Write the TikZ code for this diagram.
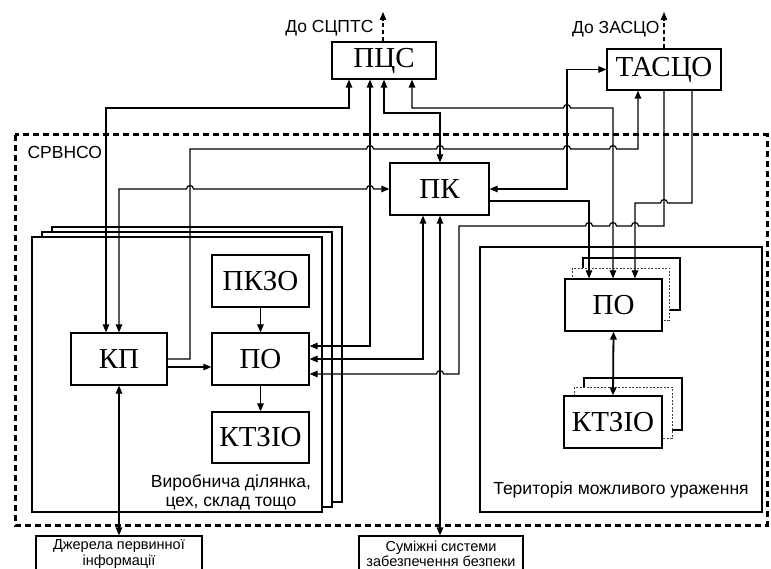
\documentclass[tikz,border=0pt]{standalone}
\usepackage{fontspec}
\setmainfont{Liberation Sans}
\newfontfamily\boxfont{Liberation Serif}
\usetikzlibrary{arrows.meta}

\begin{document}
\begin{tikzpicture}[x=1pt,y=-1pt,line width=1.2pt,>={Triangle[length=8pt,width=6.5pt]},
    blk/.style={draw,fill=white,inner sep=0pt,font=\boxfont\fontsize{29}{32}\selectfont},
    txt/.style={inner sep=0pt,align=center,font=\fontsize{17.5}{19}\selectfont},
    ext/.style={draw,fill=white,inner sep=0pt,align=center,font=\fontsize{14.5}{15.5}\selectfont},
    back/.style={draw,fill=white},
    ghost/.style={draw=black!75,fill=white,line width=0.9pt,dash pattern=on 2pt off 1.5pt},
    outlink/.style={->,dash pattern=on 4pt off 3pt}]
  \useasboundingbox (0,0) rectangle (771,569);

  % zone SRVNSO
  \draw[line width=3pt,dash pattern=on 6pt off 4pt] (15,135) rectangle (767,525);
  \node[txt,anchor=west] (srv) at (27,152) {СРВНСО};

  % stacked production areas
  \draw[back] (52,227) rectangle (342,502);
  \draw[back] (42,232) rectangle (332,507);
  \draw[back] (32,237) rectangle (322,512);
  \node[txt] (area) at (231,492) {Виробнича ділянка,\\цех, склад тощо};

  % territory
  \draw[back] (480,247) rectangle (762,512);
  \node[txt] (terr) at (621,490) {Територія можливого ураження};
  \draw[back] (583,258) rectangle (680,310);
  \draw[ghost] (572,268) rectangle (669,320);
  \draw[back] (584,378) rectangle (682,430);
  \draw[ghost] (574,387) rectangle (672,438);

  % blocks
  \node[blk,minimum width=104pt,minimum height=37pt] (pcs) at (384,60.5) {ПЦС};
  \node[blk,minimum width=114pt,minimum height=41pt] (tasco) at (664,69.5) {ТАСЦО};
  \node[blk,minimum width=99pt,minimum height=52pt] (pk) at (439.5,189) {ПК};
  \node[blk,minimum width=96pt,minimum height=52pt] (kp) at (119,359) {КП};
  \node[blk,minimum width=97pt,minimum height=52pt] (po) at (260.5,359) {ПО};
  \node[blk,minimum width=97pt,minimum height=52pt] (pkzo) at (260.5,281) {ПКЗО};
  \node[blk,minimum width=97pt,minimum height=51pt] (ktzio) at (260.5,437.5) {КТЗІО};
  \node[blk,minimum width=97pt,minimum height=52pt] (tpo) at (613.5,305) {ПО};
  \node[blk,minimum width=98pt,minimum height=52pt] (tktzio) at (613,422) {КТЗІО};
  \node[ext,minimum width=166pt,minimum height=36pt] (src) at (119,554) {Джерела первинної\\інформації};
  \node[ext,minimum width=164pt,minimum height=36pt] (adj) at (441,554) {Суміжні системи\\забезпечення безпеки};

  % outputs
  \coordinate (pcsout) at (383,12);
  \coordinate (tascout) at (664,12);
  \draw[outlink] (383,0 |- pcs.north) -- (pcsout);
  \draw[outlink] (tasco.north) -- (tascout);
  \node[txt,anchor=east] (pcslbl) at (374,28) {До СЦПТС};
  \node[txt,anchor=east] (tascolbl) at (660,29) {До ЗАСЦО};

  % inside production area
  \draw[->] (pkzo.south) -- (po.north);
  \draw[->] (po.south) -- (ktzio.north);
  \draw[->] (kp.east |- 0,367) -- (po.west |- 0,367);
  \draw[<->] (kp.south) -- (src.north);

  % links from KP
  \draw[<->] (106,0 |- kp.north) -- (106,108) -- (349,108) -- (349,0 |- pcs.south);
  \draw[<->] (119,0 |- kp.north) -- (119,189) -- (186.5,189)
    arc[start angle=180,end angle=0,radius=3.5pt] -- (366.5,189)
    arc[start angle=180,end angle=0,radius=3.5pt] -- (pk.west);
  \draw[->] (kp.east) -- (190,359) -- (190,149) -- (366.5,149)
    arc[start angle=180,end angle=0,radius=3.5pt] -- (436.5,149)
    arc[start angle=180,end angle=0,radius=3.5pt] -- (563.5,149)
    arc[start angle=180,end angle=0,radius=3.5pt] -- (609.5,149)
    arc[start angle=180,end angle=0,radius=3.5pt] -- (638,149) -- (638,0 |- tasco.south);

  % links from PCS
  \draw[<->] (370,0 |- pcs.south) -- (370,346) -- (po.east |- 0,346);
  \draw[<->] (384,0 |- pcs.south) -- (384,113) -- (440,113) -- (440,0 |- pk.north);
  \draw[<->] (412,0 |- pcs.south) -- (412,108) -- (563.5,108)
    arc[start angle=180,end angle=0,radius=3.5pt] -- (613,108) -- (613,0 |- tpo.north);

  % links from PK
  \draw[<->] (pk.east) -- (567,189) -- (567,69.5) -- (tasco.west);
  \draw[->] (pk.east |- 0,201) -- (589,201) -- (589,0 |- tpo.north);
  \draw[<->] (423,0 |- pk.south) -- (423,359) -- (po.east);
  \draw[<->] (440,0 |- pk.south) -- (440,0 |- adj.north);

  % links from TASCO
  \draw[->] (692,0 |- tasco.south) -- (692,203) -- (667.5,203)
    arc[start angle=0,end angle=180,radius=3.5pt] -- (635,203) -- (635,0 |- tpo.north);
  \draw[->] (664,0 |- tasco.south) -- (664,226) -- (638.5,226)
    arc[start angle=0,end angle=180,radius=3.5pt] -- (616.5,226)
    arc[start angle=0,end angle=180,radius=3.5pt] -- (592.5,226)
    arc[start angle=0,end angle=180,radius=3.5pt] -- (459,226) -- (459,374) -- (443.5,374)
    arc[start angle=0,end angle=180,radius=3.5pt] -- (po.east |- 0,374);

  % territory
  \draw[<->,line width=1.8pt] (tpo.south) -- (tktzio.north);
\end{tikzpicture}
\end{document}
